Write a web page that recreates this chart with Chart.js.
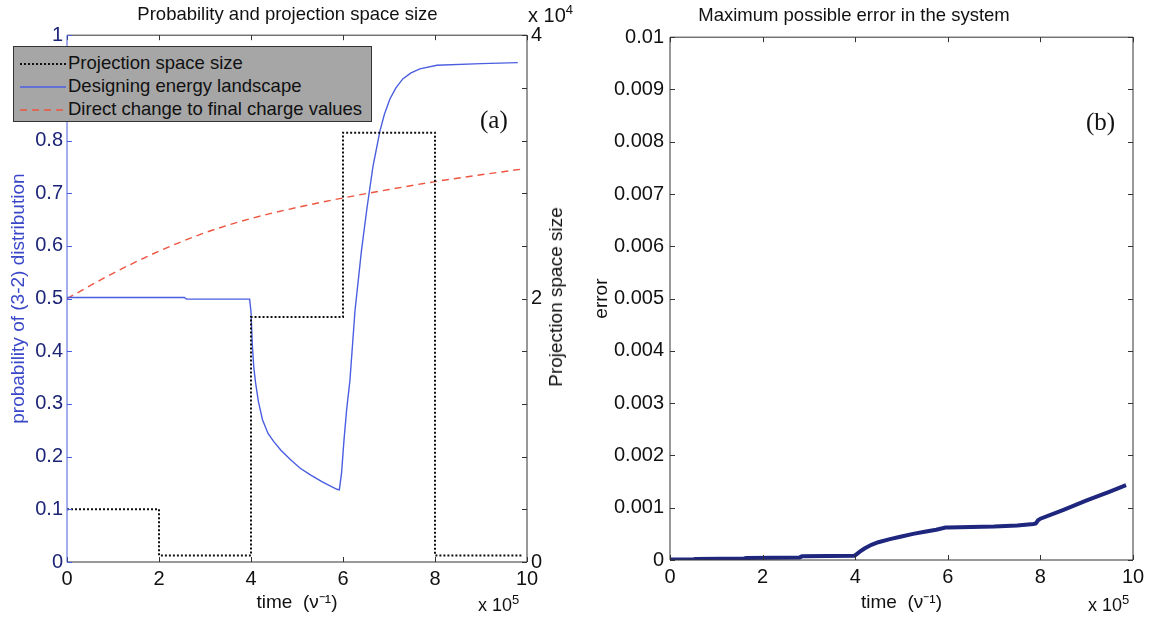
<!DOCTYPE html>
<html>
<head>
<meta charset="utf-8">
<script src="https://cdn.jsdelivr.net/npm/chart.js@4.4.1/dist/chart.umd.min.js"></script>
<style>
  body { margin: 0; background: #fff; font-family: "Liberation Sans", Arial, sans-serif; }
  #wrap { position: relative; width: 1150px; height: 617px; overflow: hidden; }
  canvas { position: absolute; top: 0; }
  #c1 { left: 0; }
  #c2 { left: 575px; }
  .note { position: absolute; color: #111; font-size: 20px; white-space: nowrap; }
  .note sup { font-size: 13px; }
  .tag { position: absolute; font-family: "Liberation Serif", "Times New Roman", serif; font-size: 25px; color: #111; }
  #legend {
    position: absolute; left: 13px; top: 46px; width: 359px; height: 76px;
    background: #a6a6a6; border: 1px solid #333; box-sizing: border-box;
    padding-top: 4px;
  }
  #legend .row { height: 23px; line-height: 23px; font-size: 18.5px; color: #111; white-space: nowrap; }
  #legend svg { vertical-align: middle; margin: 0 2px 0 6px; }
  #projTitle {
    position: absolute; left: 556px; top: 297px; font-size: 19px; color: #111;
    transform: translate(-50%, -50%) rotate(-90deg); white-space: nowrap;
  }
</style>
</head>
<body>
<div id="wrap">
  <canvas id="c1" width="575" height="617"></canvas>
  <canvas id="c2" width="575" height="617"></canvas>

  <div id="legend">
    <div class="row"><svg width="46" height="6"><line x1="0" y1="3" x2="46" y2="3" stroke="#111" stroke-width="2" stroke-dasharray="2 2"/></svg>Projection space size</div>
    <div class="row"><svg width="46" height="6"><line x1="0" y1="3" x2="46" y2="3" stroke="#4a5ee0" stroke-width="1.5"/></svg>Designing energy landscape</div>
    <div class="row"><svg width="46" height="6"><line x1="0" y1="3" x2="46" y2="3" stroke="#ee5540" stroke-width="1.5" stroke-dasharray="7 5"/></svg>Direct change to final charge values</div>
  </div>

  <div class="tag" style="left:480px; top:106px">(a)</div>
  <div class="tag" style="left:1086px; top:108px">(b)</div>
  <div class="note" style="left:528px; top:2px">x 10<sup>4</sup></div>
  <div class="note" style="left:478px; top:592px; font-size:18px">x 10<sup>5</sup></div>
  <div class="note" style="left:1088px; top:592px; font-size:18px">x 10<sup>5</sup></div>
  <div id="projTitle">Projection space size</div>
</div>

<script>
// time axis is in units of 10^5 (1/nu)
const timeTicks = [0, 2, 4, 6, 8, 10];

// "Projection space size" (right axis), held constant until next change
const projTime = [0, 2, 4, 6, 8, 9.9];
const projSize = [4000, 500, 18600, 32600, 500, 500];

// "Designing energy landscape" - probability of (3-2) distribution
const probTime = [0, 2.55, 2.6, 3.97, 4.0, 4.03, 4.06, 4.1, 4.16, 4.25, 4.37, 4.5, 4.65, 4.85, 5.07,
  5.3, 5.55, 5.75, 5.87, 5.92, 5.97, 6.02, 6.08, 6.15, 6.26, 6.4, 6.52, 6.65, 6.8, 6.9, 7.02, 7.15,
  7.3, 7.47, 7.67, 8.04, 9.0, 9.8];
const probValue = [0.502, 0.502, 0.499, 0.499, 0.475, 0.41, 0.37, 0.34, 0.305, 0.27, 0.244, 0.228,
  0.212, 0.195, 0.178, 0.165, 0.152, 0.143, 0.138, 0.137, 0.17, 0.23, 0.29, 0.344, 0.476, 0.59,
  0.671, 0.75, 0.817, 0.85, 0.879, 0.9, 0.917, 0.928, 0.936, 0.943, 0.946, 0.948];

// "Direct change to final charge values"
const directTime = [0, 1, 2, 3, 4, 5, 6, 7, 8, 9, 9.9];
const directValue = [0.5, 0.548, 0.59, 0.625, 0.652, 0.673, 0.691, 0.707, 0.722, 0.735, 0.746];

// Maximum possible error in the system
const errTime = [0, 0.5, 0.55, 1.6, 1.65, 2.8, 2.85, 3.98, 4.0, 4.1, 4.2, 4.35, 4.5, 4.75, 5.0,
  5.25, 5.5, 5.75, 5.95, 6.0, 6.5, 7.0, 7.5, 7.85, 7.9, 7.95, 8.0, 8.5, 9.0, 9.5, 9.85];
const errValue = [0.00001, 0.00001, 0.00002, 0.00003, 0.00004, 0.00005, 0.00007, 0.00008, 0.00009,
  0.00016, 0.00022, 0.00029, 0.00034, 0.0004, 0.00045, 0.0005, 0.00054, 0.00058, 0.00062, 0.00062,
  0.00063, 0.00064, 0.00066, 0.00069, 0.0007, 0.00076, 0.00079, 0.00096, 0.00114, 0.00131, 0.00143];

const tickFont = { family: "'Liberation Sans', Arial, sans-serif", size: 20 };
const titleFont = { family: "'Liberation Sans', Arial, sans-serif", size: 18.5 };
const axisFont = { family: "'Liberation Sans', Arial, sans-serif", size: 19 };

function zip(xs, ys) {
  return xs.map((x, i) => ({ x: x, y: ys[i] }));
}

// box around plot area with MATLAB style inward ticks
const framePlugin = {
  id: "frame",
  afterDraw(chart, args, opts) {
    const { ctx, chartArea: a } = chart;
    const xs = chart.scales.x;
    const ys = chart.scales.y;
    const len = 5;
    ctx.save();
    ctx.lineWidth = 1;
    ctx.strokeStyle = "#333";
    ctx.beginPath();
    ctx.moveTo(a.left, a.top);
    ctx.lineTo(a.right, a.top);
    ctx.lineTo(a.right, a.bottom);
    ctx.lineTo(a.left, a.bottom);
    ctx.stroke();
    xs.ticks.forEach((t) => {
      const px = Math.round(xs.getPixelForValue(t.value)) + 0.5;
      ctx.beginPath();
      ctx.moveTo(px, a.bottom);
      ctx.lineTo(px, a.bottom - len);
      ctx.moveTo(px, a.top);
      ctx.lineTo(px, a.top + len);
      ctx.stroke();
    });
    ys.ticks.forEach((t) => {
      const py = Math.round(ys.getPixelForValue(t.value)) + 0.5;
      ctx.beginPath();
      ctx.moveTo(a.right, py);
      ctx.lineTo(a.right - len, py);
      ctx.stroke();
    });
    ctx.strokeStyle = opts.leftColor || "#333";
    ctx.beginPath();
    ctx.moveTo(a.left, a.top);
    ctx.lineTo(a.left, a.bottom);
    ys.ticks.forEach((t) => {
      const py = Math.round(ys.getPixelForValue(t.value)) + 0.5;
      ctx.moveTo(a.left, py);
      ctx.lineTo(a.left + len, py);
    });
    ctx.stroke();
    ctx.restore();
  },
};

function xAxis(h) {
  return {
    type: "linear",
    min: 0,
    max: 10,
    grid: { display: false, drawTicks: false },
    border: { display: false },
    afterBuildTicks: (scale) => { scale.ticks = timeTicks.map((v) => ({ value: v })); },
    ticks: { color: "#111", font: tickFont, padding: 5, maxRotation: 0 },
    title: { display: true, text: "time  (ν⁻¹)", color: "#111", font: axisFont, padding: { top: 0, bottom: 3 } },
    afterFit: (scale) => { scale.height = h; },
  };
}

// left panel: probability + projection space size
new Chart(document.getElementById("c1"), {
  type: "line",
  data: {
    datasets: [
      {
        label: "Projection space size",
        data: zip(projTime, projSize),
        yAxisID: "y1",
        stepped: "before",
        borderColor: "#111",
        borderWidth: 2,
        borderDash: [2, 2],
        pointRadius: 0,
      },
      {
        label: "Designing energy landscape",
        data: zip(probTime, probValue),
        yAxisID: "y",
        borderColor: "#4a5ee0",
        borderWidth: 1.4,
        pointRadius: 0,
      },
      {
        label: "Direct change to final charge values",
        data: zip(directTime, directValue),
        yAxisID: "y",
        borderColor: "#ee5540",
        borderWidth: 1.4,
        borderDash: [7, 5],
        pointRadius: 0,
        cubicInterpolationMode: "monotone",
      },
    ],
  },
  options: {
    responsive: false,
    animation: false,
    devicePixelRatio: 1,
    layout: { padding: 0 },
    plugins: {
      legend: { display: false },
      tooltip: { enabled: false },
      title: {
        display: true,
        text: "Probability and projection space size",
        color: "#111",
        font: { ...titleFont, weight: "normal" },
        padding: { top: 4, bottom: 9 },
      },
      frame: { leftColor: "#4a5ee0" },
    },
    scales: {
      x: xAxis(55),
      y: {
        type: "linear",
        position: "left",
        min: 0,
        max: 1,
        grid: { display: false, drawTicks: false },
        border: { display: false },
        ticks: {
          stepSize: 0.1,
          color: "#1c2478",
          font: tickFont,
          padding: 4,
          callback: (v) => (v === 0 || v === 1 ? String(v) : v.toFixed(1)),
        },
        title: {
          display: true,
          text: "probability of (3-2) distribution",
          color: "#3a48c8",
          font: axisFont,
          padding: { top: 7, bottom: 0 },
        },
        afterFit: (scale) => { scale.width = 67; },
      },
      y1: {
        type: "linear",
        position: "right",
        min: 0,
        max: 40000,
        grid: { display: false, drawTicks: false },
        border: { display: false },
        ticks: {
          stepSize: 20000,
          color: "#111",
          font: tickFont,
          padding: 4,
          callback: (v) => String(v / 10000),
        },
        afterFit: (scale) => { scale.width = 48; },
      },
    },
  },
  plugins: [framePlugin],
});

// right panel: maximum possible error
new Chart(document.getElementById("c2"), {
  type: "line",
  data: {
    datasets: [
      {
        label: "error",
        data: zip(errTime, errValue),
        borderColor: "#1e267e",
        borderWidth: 4,
        pointRadius: 0,
      },
    ],
  },
  options: {
    responsive: false,
    animation: false,
    devicePixelRatio: 1,
    layout: { padding: { right: 17 } },
    plugins: {
      legend: { display: false },
      tooltip: { enabled: false },
      title: {
        display: true,
        text: "Maximum possible error in the system",
        color: "#111",
        font: { ...titleFont, weight: "normal" },
        padding: { top: 5, bottom: 10 },
      },
      frame: { leftColor: "#333" },
    },
    scales: {
      x: xAxis(57),
      y: {
        type: "linear",
        min: 0,
        max: 0.01,
        grid: { display: false, drawTicks: false },
        border: { display: false },
        ticks: {
          stepSize: 0.001,
          color: "#111",
          font: tickFont,
          padding: 6,
          callback: (v) => String(Number(v.toFixed(4))),
        },
        title: {
          display: true,
          text: "error",
          color: "#111",
          font: axisFont,
          padding: { top: 15, bottom: 0 },
        },
        afterFit: (scale) => { scale.width = 95; },
      },
    },
  },
  plugins: [framePlugin],
});
</script>
</body>
</html>
